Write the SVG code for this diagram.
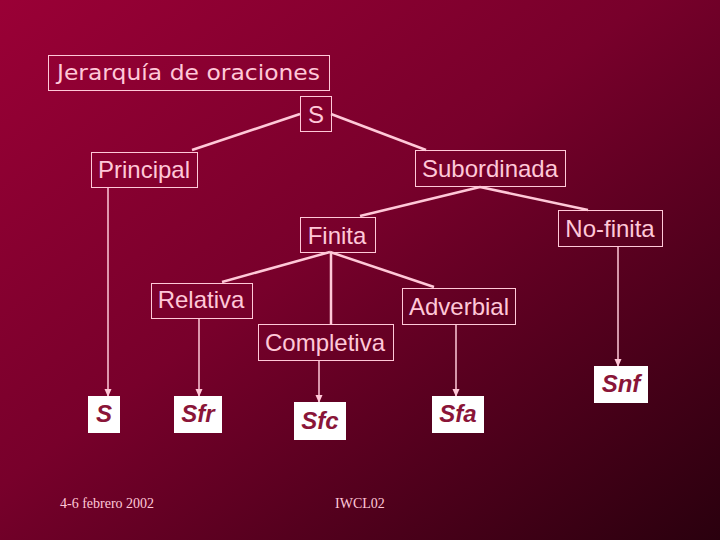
<svg xmlns="http://www.w3.org/2000/svg" width="720" height="540" viewBox="0 0 720 540">
<defs>
<linearGradient id="bg" x1="0" y1="0" x2="1" y2="1">
<stop offset="0" stop-color="#9a0036"/>
<stop offset="0.45" stop-color="#78002b"/>
<stop offset="1" stop-color="#2a000e"/>
</linearGradient>
<marker id="ah" markerWidth="8" markerHeight="8" refX="7" refY="4" orient="auto" markerUnits="userSpaceOnUse">
<path d="M0,0.5 L8,4 L0,7.5 Z" fill="#ffc8d8"/>
</marker>
<style>
.box{fill:none;stroke:#ffc8d8;stroke-width:1}
.lbl{font-family:"Liberation Sans",Arial,sans-serif;font-size:24px;fill:#ffc8d8;text-anchor:middle}
.leaf{fill:#ffffff;stroke:none}
.lt{font-family:"Liberation Sans",Arial,sans-serif;font-size:24px;font-weight:bold;font-style:italic;fill:#8a1538;text-anchor:middle}
.ln{stroke:#ffc8d8;stroke-width:2.5;fill:none}
.ar{stroke:#ffc8d8;stroke-width:1.5;fill:none;marker-end:url(#ah)}
.ft{font-family:"Liberation Serif","Times New Roman",serif;font-size:14px;fill:#ffc8d8}
</style>
</defs>
<rect width="720" height="540" fill="url(#bg)"/>
<g id="title">
<rect class="box" x="48.5" y="55.5" width="281" height="35"/>
<text x="57" y="80" textLength="263" lengthAdjust="spacingAndGlyphs" style="font-family:'DejaVu Sans',sans-serif;font-size:21px;fill:#ffc8d8">Jerarquía de oraciones</text>
</g>
<g id="connectors">
<line class="ln" x1="300" y1="114" x2="192" y2="150"/>
<line class="ln" x1="331" y1="114" x2="426" y2="150"/>
<line class="ln" x1="480" y1="187" x2="360" y2="216"/>
<line class="ln" x1="480" y1="187" x2="588" y2="210"/>
<line class="ln" x1="330" y1="252" x2="222" y2="282"/>
<line class="ln" x1="330" y1="252" x2="434" y2="287"/>
<line class="ln" x1="331" y1="252" x2="331" y2="324"/>
<line class="ar" x1="108" y1="187" x2="108" y2="396"/>
<line class="ar" x1="199" y1="318" x2="199" y2="396"/>
<line class="ar" x1="319" y1="360" x2="319" y2="402"/>
<line class="ar" x1="456" y1="324" x2="456" y2="396"/>
<line class="ar" x1="618" y1="246" x2="618" y2="366"/>
</g>
<g id="n-S">
<rect class="box" x="300.5" y="96.5" width="31" height="35"/>
<text class="lbl" x="316" y="123">S</text>
</g>
<g id="n-principal">
<rect class="box" x="91.5" y="152.5" width="106" height="35"/>
<text class="lbl" x="144" y="178">Principal</text>
</g>
<g id="n-subordinada">
<rect class="box" x="415.5" y="150.5" width="150" height="36"/>
<text class="lbl" x="490" y="177">Subordinada</text>
</g>
<g id="n-finita">
<rect class="box" x="300.5" y="217.5" width="75" height="35"/>
<text class="lbl" x="337" y="244">Finita</text>
</g>
<g id="n-nofinita">
<rect class="box" x="558.5" y="210.5" width="104" height="36"/>
<text class="lbl" x="610" y="237">No-finita</text>
</g>
<g id="n-relativa">
<rect class="box" x="151.5" y="283.5" width="101" height="35"/>
<text class="lbl" x="201" y="308">Relativa</text>
</g>
<g id="n-adverbial">
<rect class="box" x="402.5" y="288.5" width="113" height="36"/>
<text class="lbl" x="459" y="315">Adverbial</text>
</g>
<g id="n-completiva">
<rect class="box" x="258.5" y="324.5" width="135" height="36"/>
<text class="lbl" x="325" y="351">Completiva</text>
</g>
<g id="leaf-S">
<rect class="leaf" x="88" y="396" width="32" height="37"/>
<text class="lt" x="104" y="422">S</text>
</g>
<g id="leaf-Sfr">
<rect class="leaf" x="174" y="396" width="48" height="37"/>
<text class="lt" x="198" y="422">Sfr</text>
</g>
<g id="leaf-Sfc">
<rect class="leaf" x="294" y="402" width="52" height="38"/>
<text class="lt" x="320" y="429">Sfc</text>
</g>
<g id="leaf-Sfa">
<rect class="leaf" x="432" y="396" width="52" height="37"/>
<text class="lt" x="458" y="422">Sfa</text>
</g>
<g id="leaf-Snf">
<rect class="leaf" x="594" y="366" width="54" height="37"/>
<text class="lt" x="621" y="392">Snf</text>
</g>
<text class="ft" x="60" y="508">4-6 febrero 2002</text>
<text class="ft" x="335" y="508">IWCL02</text>
</svg>
